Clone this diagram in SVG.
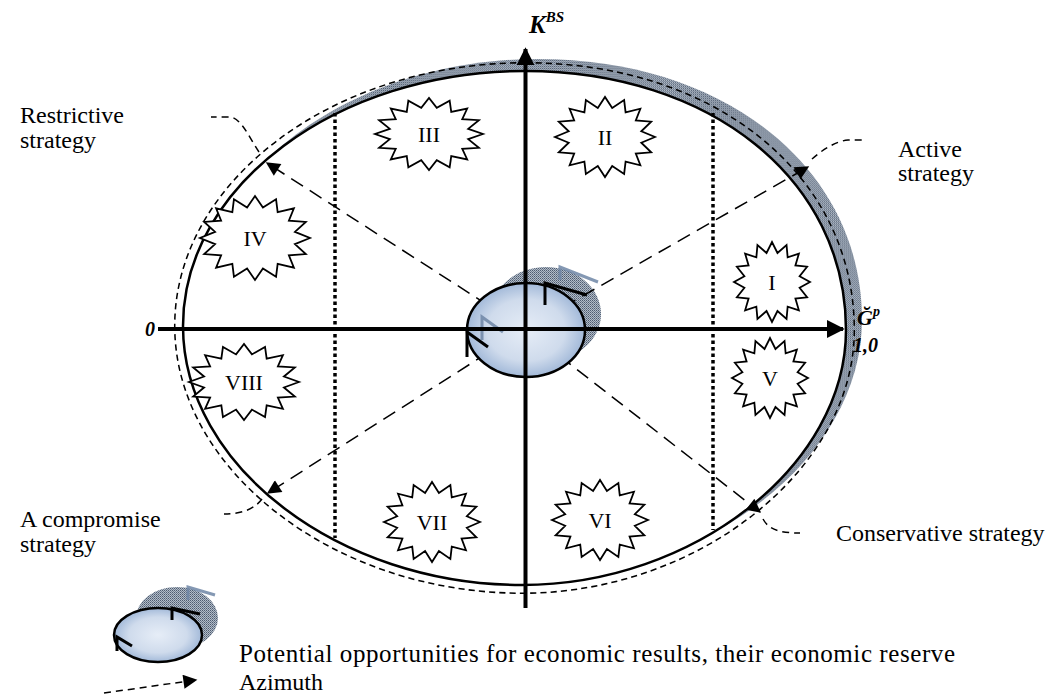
<svg xmlns="http://www.w3.org/2000/svg" xmlns:xlink="http://www.w3.org/1999/xlink" width="1048" height="696" viewBox="0 0 1048 696">
<style>
.lbl{font-family:"Liberation Serif","Times New Roman",serif;font-size:24px;fill:#000}
.num{font-family:"Liberation Serif","Times New Roman",serif;font-size:22px;fill:#000;text-anchor:middle}
.ax{font-family:"Liberation Serif","Times New Roman",serif;font-weight:bold;font-style:italic;fill:#000}
.star{fill:#fff;stroke:#000;stroke-width:1.8}
.rad{fill:none;stroke:#000;stroke-width:1.5;stroke-dasharray:14 8}
.lead{fill:none;stroke:#000;stroke-width:1.5;stroke-dasharray:7 5}
.dot{stroke:#000;stroke-width:3.5;stroke-dasharray:3.5 3}
.axis{stroke:#000;stroke-width:4;fill:none}
.mk{stroke:#000;stroke-width:3;fill:none}
.gmk{stroke:#6f86a6;stroke-width:3;fill:none;opacity:0.85}
</style>
<defs>
<pattern id="dots" width="2" height="2" patternUnits="userSpaceOnUse">
<rect width="2" height="2" fill="#b3bcc7"/>
<rect width="1" height="1" fill="#4d5b70"/>
<rect x="1" y="1" width="1" height="1" fill="#6f7d90"/>
</pattern>
<radialGradient id="blue" cx="50%" cy="50%" r="55%">
<stop offset="0" stop-color="#e6edf7"/>
<stop offset="0.6" stop-color="#cfdbec"/>
<stop offset="1" stop-color="#95afd3"/>
</radialGradient>
<path id="rim" d="M525,71 C711,71 846,180 846,330 C846,465 694,585 522,585 C339,585 183,466 183,326 C183,186 337,71 525,71 Z"/>
<polygon id="starShape" vector-effect="non-scaling-stroke" points="50,0 36.3,7.2 46.19,19.13 30.8,20.6 35.36,35.36 20.6,30.8 19.13,46.19 7.2,36.3 0,50 -7.2,36.3 -19.13,46.19 -20.6,30.8 -35.36,35.36 -30.8,20.6 -46.19,19.13 -36.3,7.2 -50,0 -36.3,-7.2 -46.19,-19.13 -30.8,-20.6 -35.36,-35.36 -20.6,-30.8 -19.13,-46.19 -7.2,-36.3 0,-50 7.2,-36.3 19.13,-46.19 20.6,-30.8 35.36,-35.36 30.8,-20.6 46.19,-19.13 36.3,-7.2"/>
<marker id="tri" viewBox="0 0 10 10" refX="9" refY="5" markerWidth="16" markerHeight="14" markerUnits="userSpaceOnUse" orient="auto">
<path d="M0,0 L10,5 L0,10 Z" fill="#000"/>
</marker>
<marker id="big" viewBox="0 0 10 10" refX="9" refY="5" markerWidth="18" markerHeight="18" markerUnits="userSpaceOnUse" orient="auto">
<path d="M0,0 L10,5 L0,10 Z" fill="#000"/>
</marker>
</defs>
<rect width="1048" height="696" fill="#fff"/>

<g id="field">
<use xlink:href="#rim" href="#rim" transform="translate(14,-10) translate(514,328) scale(1.006,1.008) translate(-514,-328)" fill="url(#dots)" stroke="none"/>
<use xlink:href="#rim" href="#rim" fill="#fff" stroke="#000" stroke-width="2.5"/>
<use xlink:href="#rim" href="#rim" transform="translate(514,328) scale(1.025,1.032) translate(-514,-328)" fill="none" stroke="#000" stroke-width="1.5" stroke-dasharray="6 4"/>
<line class="dot" x1="335" y1="113" x2="335" y2="538"/>
<line class="dot" x1="713" y1="113" x2="713" y2="530"/>
</g>

<g id="zone-III"><use xlink:href="#starShape" href="#starShape" class="star" transform="translate(429,134) scale(1.08,0.72)"/><text class="num" x="429" y="142">III</text></g>
<g id="zone-II"><use xlink:href="#starShape" href="#starShape" class="star" transform="translate(605,137) scale(1,0.8)"/><text class="num" x="605" y="145">II</text></g>
<g id="zone-IV"><use xlink:href="#starShape" href="#starShape" class="star" transform="translate(255,238) scale(1.1,0.84)"/><text class="num" x="255" y="246">IV</text></g>
<g id="zone-I"><use xlink:href="#starShape" href="#starShape" class="star" transform="translate(772,282) scale(0.76,0.8)"/><text class="num" x="772" y="290">I</text></g>
<g id="zone-VIII"><use xlink:href="#starShape" href="#starShape" class="star" transform="translate(244,382) scale(1.1,0.76)"/><text class="num" x="244" y="390">VIII</text></g>
<g id="zone-V"><use xlink:href="#starShape" href="#starShape" class="star" transform="translate(770,378) scale(0.76,0.8)"/><text class="num" x="770" y="386">V</text></g>
<g id="zone-VII"><use xlink:href="#starShape" href="#starShape" class="star" transform="translate(432,522) scale(0.96,0.8)"/><text class="num" x="432" y="530">VII</text></g>
<g id="zone-VI"><use xlink:href="#starShape" href="#starShape" class="star" transform="translate(600,520) scale(0.96,0.8)"/><text class="num" x="600" y="528">VI</text></g>

<g id="reserve-shadow">
<ellipse cx="546" cy="314" rx="55" ry="47" fill="url(#dots)"/>
</g>

<g id="connectors">
<path class="rad" d="M525,329 L267,163" marker-end="url(#tri)"/>
<path class="rad" d="M525,329 L808,167" marker-end="url(#tri)"/>
<path class="rad" d="M525,329 L268,493" marker-end="url(#tri)"/>
<path class="rad" d="M525,329 L760,512" marker-end="url(#tri)"/>
<path class="lead" d="M259,152 C249,137 241,118 230,117 L211,117"/>
<path class="lead" d="M812,159 C822,150 836,141 848,140 L864,140"/>
<path class="lead" d="M262,499 C256,507 245,514 224,514"/>
<path class="lead" d="M763,519 C768,528 776,533 800,533"/>
</g>

<g id="reserve">
<ellipse cx="526" cy="330" rx="59" ry="47" fill="url(#blue)" stroke="#000" stroke-width="2.5"/>
<path class="gmk" d="M560,280 L560,267 L598,282"/>
<path class="gmk" d="M482,340 L482,317 L503,332"/>
<path class="mk" d="M545,305 L545,283 L587,295"/>
<path class="mk" d="M467,357 L467,332 L488,347"/>
</g>

<g id="axes">
<line class="axis" x1="158" y1="329" x2="843" y2="329" marker-end="url(#big)"/>
<line class="axis" x1="525.5" y1="608" x2="525.5" y2="49" marker-end="url(#big)"/>
<text class="ax" x="529" y="33" font-size="25">K<tspan font-size="15" dy="-11">BS</tspan></text>
<text class="ax" x="145" y="336" font-size="20">0</text>
<text class="ax" x="857" y="325" font-size="22">Ğ<tspan font-size="14" dy="-9">p</tspan></text>
<text class="ax" x="853" y="352" font-size="20">1,0</text>
</g>

<g id="labels">
<text class="lbl" x="20" y="123">Restrictive</text>
<text class="lbl" x="20" y="148">strategy</text>
<text class="lbl" x="898" y="157">Active</text>
<text class="lbl" x="898" y="181">strategy</text>
<text class="lbl" x="20" y="527">A compromise</text>
<text class="lbl" x="20" y="552">strategy</text>
<text class="lbl" x="836" y="541">Conservative strategy</text>
</g>

<g id="legend">
<ellipse cx="177" cy="618" rx="41" ry="31" fill="url(#dots)"/>
<path class="gmk" d="M188,600 L188,587 L215,595" stroke-width="2.5"/>
<path class="gmk" d="M133,630 L133,618 L147,626" stroke-width="2.5"/>
<ellipse cx="158" cy="635" rx="44" ry="27" fill="url(#blue)" stroke="#000" stroke-width="2.5"/>
<path class="mk" d="M172,620 L172,608 L200,614" stroke-width="2.5"/>
<path class="mk" d="M117,651 L117,637 L132,646" stroke-width="2.5"/>
<text class="lbl" x="239" y="662" style="font-size:25px" textLength="716" lengthAdjust="spacing">Potential opportunities for economic results, their economic reserve</text>
<path class="lead" d="M104,693 L196,680" stroke-width="1.6" marker-end="url(#tri)"/>
<text class="lbl" x="239" y="690">Azimuth</text>
</g>
</svg>
